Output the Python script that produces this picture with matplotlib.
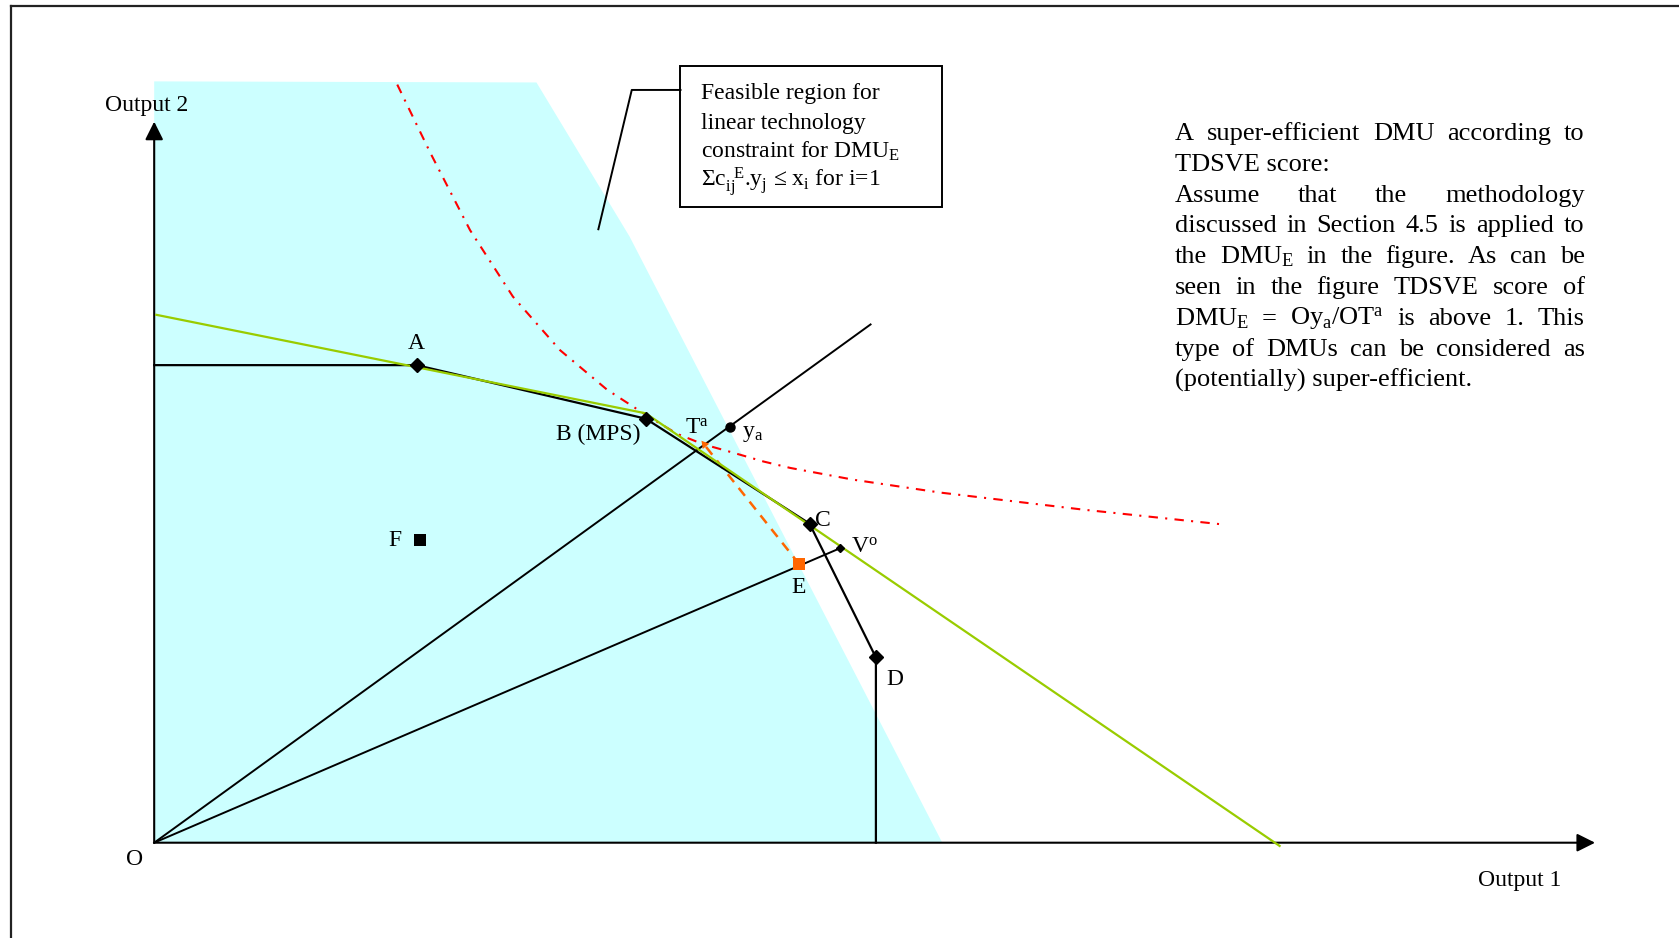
import matplotlib
matplotlib.use("Agg")
import matplotlib.pyplot as plt
from matplotlib.patches import Polygon, Rectangle, FancyArrowPatch
from matplotlib.lines import Line2D

plt.rcParams['font.family'] = ['Liberation Serif', 'DejaVu Serif']
plt.rcParams['mathtext.fontset'] = 'custom'
plt.rcParams['mathtext.rm'] = 'Liberation Serif'
plt.rcParams['mathtext.it'] = 'Liberation Serif:italic'

# DMUs (Output 1, Output 2)
dmu_names = ['A', 'B', 'C', 'D', 'E', 'F']
dmu_x = [2.45, 4.59, 6.12, 6.74, 6.025, 2.48]
dmu_y = [4.46, 3.96, 2.98, 1.73, 2.60, 2.83]

# efficient frontier (free disposal hull ends)
frontier_x = [0.0, 2.45, 4.59, 6.12, 6.74, 6.74]
frontier_y = [4.46, 4.46, 3.96, 2.98, 1.73, 0.0]

# green supporting line
green_x = [0.02, 4.59, 10.51]
green_y = [4.93, 4.01, -0.03]

# red dash-dot curve
red_x = [2.27, 2.58, 2.95, 3.35, 3.79, 4.23, 4.60, 4.88, 5.13, 5.38, 5.69, 5.94, 6.53, 7.34, 8.68, 10.00]
red_y = [7.08, 6.44, 5.72, 5.10, 4.60, 4.23, 3.99, 3.82, 3.72, 3.65, 3.56, 3.50, 3.39, 3.27, 3.11, 2.97]

# feasible region of the linear technology constraint
region_x = [0.0, 3.57, 4.44, 7.36, 0.0]
region_y = [7.11, 7.10, 5.66, 0.0, 0.0]

# special points
ta = (5.135, 3.72)
ya = (5.38, 3.88)
vo = (6.405, 2.75)
ray1_end = (6.69, 4.84)

box_lines = ['Feasible region for',
             'linear technology',
             r'constraint for DMU$_\mathrm{E}$',
             r'Σc$_\mathrm{ij}^{\ \ \mathrm{E}}$.y$_\mathrm{j}$ ≤ x$_\mathrm{i}$ for i=1']

para_lines = [
    ('A super-efficient DMU according to', True),
    ('TDSVE score:', False),
    ('Assume that the methodology', True),
    ('discussed in Section 4.5 is applied to', True),
    (r'the DMU$_\mathrm{E}$ in the figure. As can be', True),
    ('seen in the figure TDSVE score of', True),
    (r'DMU$_\mathrm{E}$ = Oy$_\mathrm{a}$/OT$^\mathrm{a}$ is above 1. This', True),
    ('type of DMUs can be considered as', True),
    ('(potentially) super-efficient.', False),
]

fig = plt.figure(figsize=(16.79, 9.38), dpi=100)
ax = fig.add_axes([0, 0, 1, 1])
ax.set_xlim(-1.44, 14.24)
ax.set_ylim(-0.89, 7.87)
ax.axis('off')

# page frame
fig.add_artist(Line2D([10.5/1679, 10.5/1679], [0, 1-5.8/938], color='#222222', lw=1.6))
fig.add_artist(Line2D([10.5/1679, 1.0], [1-5.8/938, 1-5.8/938], color='#222222', lw=1.6))

ax.add_patch(Polygon(list(zip(region_x, region_y)), closed=True, facecolor='#CCFFFF', edgecolor='none', zorder=0))

# axes arrows
for tip in [(13.456, 0.0), (0.0, 6.734)]:
    ax.add_patch(FancyArrowPatch((0, 0), tip, arrowstyle='-|>,head_length=1.1,head_width=0.55',
                                 mutation_scale=10, color='black', lw=1.5, shrinkA=0, shrinkB=0, zorder=3))

# red curve
ax.plot(red_x, red_y, color='#FF0000', lw=1.5, linestyle=(0, (4.5, 3.5, 1, 3.5)), zorder=2)

# rays from origin
ax.plot([0, ray1_end[0]], [0, ray1_end[1]], color='black', lw=1.4, zorder=3)
ax.plot([0, vo[0]], [0, vo[1]], color='black', lw=1.4, zorder=3)
ax.plot(vo[0], vo[1], marker='D', ms=4.5, color='black', zorder=5)

# orange projection E -> Ta
ax.plot([dmu_x[4], ta[0]], [dmu_y[4], ta[1]], color='#FF6600', lw=1.8, linestyle=(0, (4, 3)), zorder=3)
ax.plot(ta[0], ta[1], marker=(3, 0, 38.5), ms=7, color='#FF6600', mew=0, zorder=5)

# frontier and green line
ax.plot(frontier_x, frontier_y, color='black', lw=1.6, zorder=3)
ax.plot(green_x, green_y, color='#99CC00', lw=1.6, zorder=4)

# DMU markers
for i, n in enumerate(dmu_names):
    if n in 'ABCD':
        ax.plot(dmu_x[i], dmu_y[i], marker='D', ms=7, color='black', zorder=5)
    elif n == 'E':
        ax.plot(dmu_x[i], dmu_y[i], marker='s', ms=8, color='#FF6600', mew=0, zorder=5)
    else:
        ax.plot(dmu_x[i], dmu_y[i], marker='s', ms=8, color='black', mew=0, zorder=5)
ax.plot(ya[0], ya[1], marker='o', ms=6.5, color='black', zorder=5)

fs = 17
lab = dict(fontsize=fs, va='baseline', zorder=6)
ax.text(-0.46, 6.833, 'Output 2', ha='left', **lab)
ax.text(-0.186, -0.208, 'O', ha='center', **lab)
ax.text(12.36, -0.405, 'Output 1', ha='left', **lab)
ax.text(2.451, 4.61, 'A', ha='center', **lab)
ax.text(3.752, 3.761, 'B (MPS)', ha='left', **lab)
ax.text(4.957, 3.817, r'T$^\mathrm{a}$', ha='left', **lab)
ax.text(5.49, 3.792, r'y$_\mathrm{a}$', ha='left', **lab)
ax.text(6.17, 2.961, 'C', ha='left', **lab)
ax.text(6.504, 2.709, r'V$^\mathrm{o}$', ha='left', **lab)
ax.text(5.953, 2.329, 'E', ha='left', **lab)
ax.text(6.84, 1.473, 'D', ha='left', **lab)
ax.text(2.249, 2.771, 'F', ha='center', **lab)

# annotation box and callout
ax.add_patch(Rectangle((4.915, 5.935), 7.354-4.915, 7.254-5.935, facecolor='white', edgecolor='black', lw=1.4, zorder=6))
ax.plot([4.915, 4.46, 4.148], [7.03, 7.03, 5.729], color='black', lw=1.4, zorder=6)
for i, s in enumerate(box_lines):
    ax.text(5.11, 6.945 - 0.2753*i, s, fontsize=17, ha='left', va='baseline', zorder=7)

# justified paragraph
px0, px1 = 9.53, 13.36
pfs = 19
r = fig.canvas.get_renderer()
inv = ax.transData.inverted()
for i, (line, just) in enumerate(para_lines):
    y = 6.563 - 0.288*i
    if not just:
        ax.text(px0, y, line, fontsize=pfs, ha='left', va='baseline')
        continue
    words = line.split(' ')
    texts = [ax.text(0, y, w, fontsize=pfs, ha='left', va='baseline') for w in words]
    widths = []
    for t in texts:
        bb = t.get_window_extent(r)
        a = inv.transform((bb.x0, 0))[0]
        b = inv.transform((bb.x1, 0))[0]
        widths.append(b - a)
    gap = (px1 - px0 - sum(widths)) / (len(words) - 1)
    x = px0
    for t, w in zip(texts, widths):
        t.set_x(x)
        x += w + gap

fig.savefig('out.png', dpi=100)
